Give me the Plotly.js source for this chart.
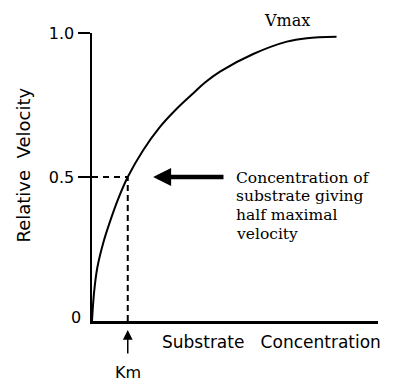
<!DOCTYPE html>
<html>
<head>
<meta charset="utf-8">
<script src="https://cdn.plot.ly/plotly-3.0.1.min.js"></script>
<style>
html,body{margin:0;padding:0;background:#fff;}
#chart{width:400px;height:388px;}
</style>
</head>
<body>
<div id="chart"></div>
<script>
// Data (relative units)
var substrate = [0, 0.056, 0.148, 0.316, 0.503, 0.736, 1.0, 1.435, 1.874, 2.369, 2.834, 3.161, 3.58, 4.51, 5.45, 6.01, 6.84];
var velocity  = [0, 0.097, 0.185, 0.272, 0.345, 0.425, 0.5, 0.594, 0.670, 0.737, 0.791, 0.828, 0.866, 0.927, 0.970, 0.982, 0.987];
var km = 1.0;
var halfVmax = 0.5;
var yTickVals = [0.5, 1.0];
var yTickText = ['0.5', '1.0'];
var noteLines = ['Concentration of', 'substrate giving', 'half maximal', 'velocity'];

var sans = 'DejaVu Sans, sans-serif';
var serif = 'DejaVu Serif, serif';

var traces = [
  {x: substrate, y: velocity, mode: 'lines', line: {color: '#000', width: 2, shape: 'spline', smoothing: 1}, hoverinfo: 'skip'},
  {x: [0, km], y: [halfVmax, halfVmax], mode: 'lines', line: {color: '#000', width: 2, dash: '6px,5px'}, hoverinfo: 'skip'},
  {x: [km, km], y: [0, halfVmax], mode: 'lines', line: {color: '#000', width: 2, dash: '6px,4px'}, hoverinfo: 'skip'}
];

function pyToPaper(py){ return (321 - py) / 288; }
function pxToPaper(px){ return (px - 92) / 286; }

var annotations = [
  // big arrow pointing at the half-maximal point
  {x: 1.71, y: halfVmax, xref: 'x', yref: 'y', ax: 3.72, ay: halfVmax, axref: 'x', ayref: 'y',
   text: '', showarrow: true, arrowhead: 2, arrowsize: 0.8, arrowwidth: 4.5, arrowcolor: '#000'},
  // Km arrow below axis
  {x: km, y: pyToPaper(330), xref: 'x', yref: 'paper', ax: 0, ay: 25,
   text: '', showarrow: true, arrowhead: 2, arrowsize: 1.3, arrowwidth: 1.5, arrowcolor: '#000'},
  {x: km, y: pyToPaper(372), xref: 'x', yref: 'paper', text: 'Km', showarrow: false,
   font: {family: sans, size: 16, color: '#000'}, xanchor: 'center', yanchor: 'middle'},
  {x: pxToPaper(287), y: pyToPaper(20), xref: 'paper', yref: 'paper', text: 'Vmax', showarrow: false,
   font: {family: serif, size: 16, color: '#000'}, xanchor: 'center', yanchor: 'middle'},
  {x: pxToPaper(271), y: pyToPaper(342), xref: 'paper', yref: 'paper', text: 'Substrate\u00a0\u00a0 Concentration', showarrow: false,
   font: {family: sans, size: 17, color: '#000'}, xanchor: 'center', yanchor: 'middle'},
  {x: pxToPaper(23), y: pyToPaper(165.5), xref: 'paper', yref: 'paper', text: 'Relative\u00a0 Velocity', showarrow: false,
   textangle: -90, font: {family: sans, size: 18, color: '#000'}, xanchor: 'center', yanchor: 'middle'},
  {x: pxToPaper(83), y: pyToPaper(317), xref: 'paper', yref: 'paper', text: '0', showarrow: false,
   font: {family: sans, size: 16, color: '#000'}, xanchor: 'right', yanchor: 'middle'}
];
var lineY = [178, 196.5, 215, 233.5];
noteLines.forEach(function(t, i){
  annotations.push({x: pxToPaper(234), y: pyToPaper(lineY[i]), xref: 'paper', yref: 'paper', text: t, showarrow: false,
    font: {family: serif, size: 15.5, color: '#000'}, xanchor: 'left', yanchor: 'middle', align: 'left'});
});

var layout = {
  width: 400, height: 388,
  margin: {l: 92, r: 22, t: 33, b: 67, pad: 0},
  paper_bgcolor: '#fff', plot_bgcolor: '#fff',
  showlegend: false,
  xaxis: {range: [0, 8], showgrid: false, zeroline: false, showline: true, linecolor: '#000', linewidth: 2.5,
          ticks: '', showticklabels: false, fixedrange: true},
  yaxis: {range: [0, 1], showgrid: false, zeroline: false, showline: true, linecolor: '#000', linewidth: 2.5,
          ticks: 'outside', ticklen: 12, tickwidth: 2, tickcolor: '#000',
          tickvals: yTickVals, ticktext: yTickText,
          tickfont: {family: sans, size: 16, color: '#000'}, fixedrange: true},
  annotations: annotations
};

Plotly.newPlot('chart', traces, layout, {staticPlot: true, displayModeBar: false});
</script>
</body>
</html>
